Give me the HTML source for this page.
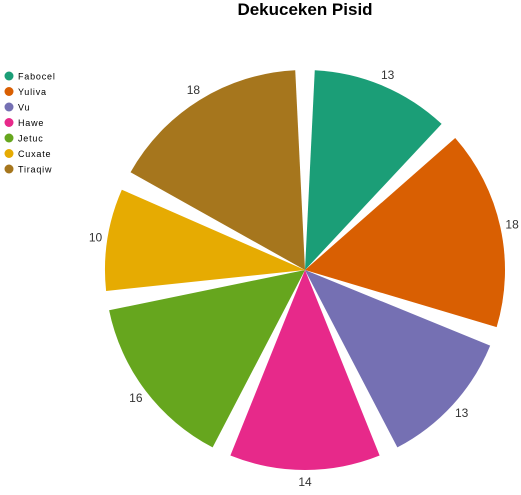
<!DOCTYPE html>
<html><head><meta charset="utf-8"><style>
body{margin:0;background:#fff;width:521px;height:490px;overflow:hidden;font-family:"Liberation Sans",sans-serif}
</style></head><body>
<svg width="521" height="490">
<text x="305" y="15" text-anchor="middle" font-size="17" font-weight="bold">Dekuceken Pisid</text>
<g id="legend"></g><g id="slices"></g><g id="labels"></g>
</svg>
<script>
const categories=["Fabocel","Yuliva","Vu","Hawe","Jetuc","Cuxate","Tiraqiw"];
const values=[13,18,13,14,16,10,18];
const colors=["#1b9e77","#d95f02","#7570b3","#e7298a","#66a61e","#e6ab02","#a6761d"];
const NS="http://www.w3.org/2000/svg";
const cx=305,cy=270,R=200,pad=2.8,LR=212;
const total=values.reduce((a,b)=>a+b,0);
function pt(a,r){const t=a*Math.PI/180;return[cx+r*Math.sin(t),cy-r*Math.cos(t)];}
let acc=0;
const sg=document.getElementById('slices'),lg=document.getElementById('labels'),leg=document.getElementById('legend');
values.forEach((v,i)=>{
 const a0=acc/total*360+pad,a1=(acc+v)/total*360-pad;acc+=v;
 const p0=pt(a0,R),p1=pt(a1,R);
 const p=document.createElementNS(NS,'path');
 p.setAttribute('d',`M${cx},${cy}L${p0[0]},${p0[1]}A${R},${R} 0 ${a1-a0>180?1:0} 1 ${p1[0]},${p1[1]}Z`);
 p.setAttribute('fill',colors[i]);
 
 
 sg.appendChild(p);
 const m=(a0+a1)/2,lp=pt(m,LR);
 const t=document.createElementNS(NS,'text');
 t.setAttribute('x',lp[0]);t.setAttribute('y',lp[1]+4);
 t.setAttribute('text-anchor','middle');t.setAttribute('font-size','12');t.setAttribute('fill','#333');
 t.textContent=v;
 
 
 lg.appendChild(t);
 const y=76+i*15.5;
 const c=document.createElementNS(NS,'circle');
 c.setAttribute('cx',9);c.setAttribute('cy',y);c.setAttribute('r',4.5);c.setAttribute('fill',colors[i]);
 
 
 leg.appendChild(c);
 const lt=document.createElementNS(NS,'text');
 lt.setAttribute('x',18);lt.setAttribute('y',y+3.5);lt.setAttribute('font-size','9');lt.setAttribute('letter-spacing','0.8');
 lt.textContent=categories[i];
 
 
 leg.appendChild(lt);
});
</script>
</body></html>
